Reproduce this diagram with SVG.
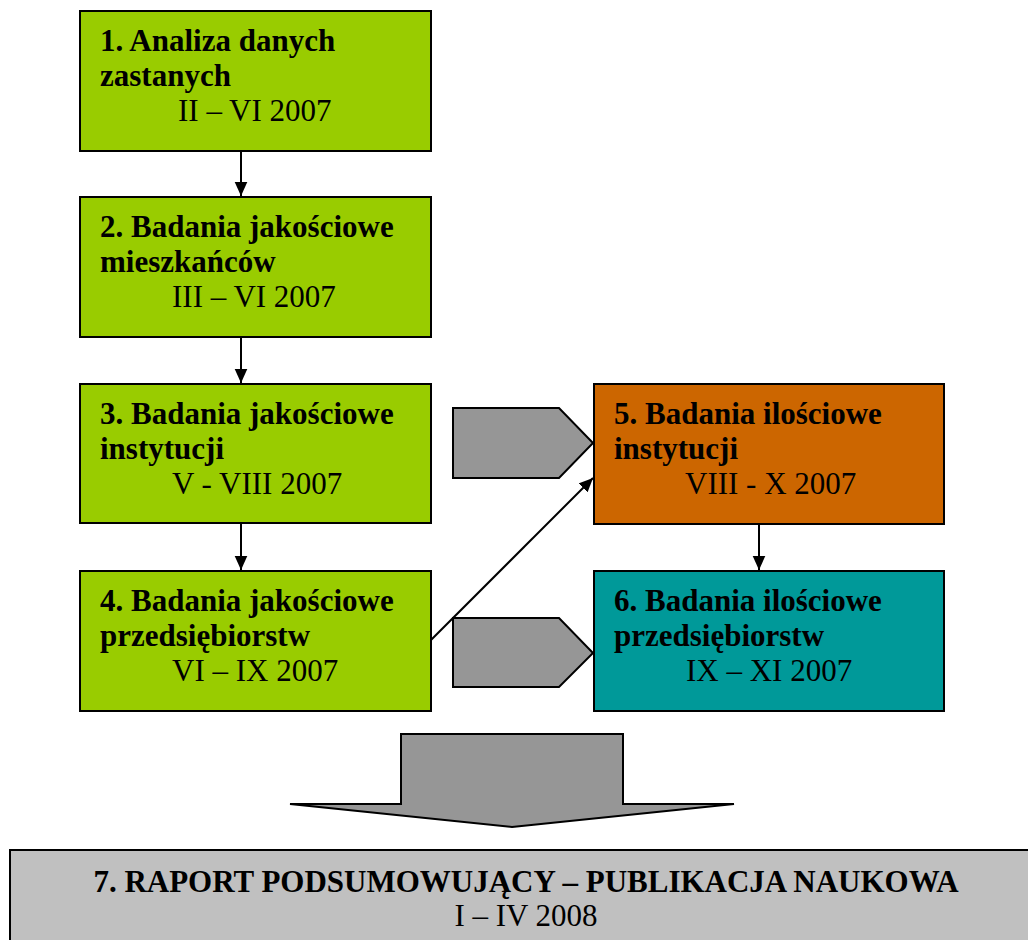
<svg xmlns="http://www.w3.org/2000/svg" width="1028" height="940" viewBox="0 0 1028 940">
<style>
.box{stroke:#000;stroke-width:2}
.b{font-family:"Liberation Serif","Times New Roman",serif;font-weight:bold;font-size:31px;fill:#000}
.r{font-family:"Liberation Serif","Times New Roman",serif;font-size:31px;fill:#000}
.ln{stroke:#000;stroke-width:2;fill:none}
.big{fill:#969696;stroke:#000;stroke-width:2;stroke-linejoin:miter}
</style>
<defs>
<marker id="ah" viewBox="0 0 10 10" refX="10" refY="5" markerWidth="14" markerHeight="14" markerUnits="userSpaceOnUse" orient="auto">
<path d="M0,0.5 L10,5 L0,9.5 z" fill="#000"/>
</marker>
</defs>
<rect width="1028" height="940" fill="#fff"/>
<g id="node1">
<rect class="box" x="80" y="11" width="351" height="140" fill="#99CC00"/>
<text class="b" x="100" y="51">1. Analiza danych</text>
<text class="b" x="100" y="86">zastanych</text>
<text class="r" x="178" y="121">II – VI 2007</text>
</g>
<g id="node2">
<rect class="box" x="80" y="197" width="351" height="140" fill="#99CC00"/>
<text class="b" x="100" y="237">2. Badania jakościowe</text>
<text class="b" x="100" y="272">mieszkańców</text>
<text class="r" x="172" y="307">III – VI 2007</text>
</g>
<g id="node3">
<rect class="box" x="80" y="384" width="351" height="139" fill="#99CC00"/>
<text class="b" x="100" y="424">3. Badania jakościowe</text>
<text class="b" x="100" y="459">instytucji</text>
<text class="r" x="172" y="494">V - VIII 2007</text>
</g>
<g id="node4">
<rect class="box" x="80" y="571" width="351" height="140" fill="#99CC00"/>
<text class="b" x="100" y="611">4. Badania jakościowe</text>
<text class="b" x="100" y="646">przedsiębiorstw</text>
<text class="r" x="172" y="681">VI – IX 2007</text>
</g>
<g id="node5">
<rect class="box" x="594" y="384" width="350" height="140" fill="#CC6600"/>
<text class="b" x="614" y="424">5. Badania ilościowe</text>
<text class="b" x="614" y="459">instytucji</text>
<text class="r" x="685" y="494">VIII - X 2007</text>
</g>
<g id="node6">
<rect class="box" x="594" y="571" width="350" height="140" fill="#009999"/>
<text class="b" x="614" y="611">6. Badania ilościowe</text>
<text class="b" x="614" y="646">przedsiębiorstw</text>
<text class="r" x="686" y="681">IX – XI 2007</text>
</g>
<g id="node7">
<rect class="box" x="10" y="850" width="1030" height="100" fill="#C0C0C0"/>
<text class="b" x="526" y="892" text-anchor="middle">7. RAPORT PODSUMOWUJĄCY – PUBLIKACJA NAUKOWA</text>
<text class="r" x="526" y="926" text-anchor="middle">I – IV 2008</text>
</g>
<g id="connectors">
<line class="ln" x1="241" y1="151" x2="241" y2="196" marker-end="url(#ah)"/>
<line class="ln" x1="241" y1="337" x2="241" y2="383" marker-end="url(#ah)"/>
<line class="ln" x1="241" y1="523" x2="241" y2="570" marker-end="url(#ah)"/>
<line class="ln" x1="759" y1="524" x2="759" y2="570" marker-end="url(#ah)"/>
<line class="ln" x1="431" y1="640" x2="593" y2="478" marker-end="url(#ah)"/>
<path class="big" d="M453,408 L559,408 L593,443 L559,478 L453,478 Z"/>
<path class="big" d="M453,618 L559,618 L593,653 L559,687 L453,687 Z"/>
<path class="big" d="M401,734 L623,734 L623,804 L734,804 L512,827 L290,804 L401,804 Z"/>
</g>
</svg>
